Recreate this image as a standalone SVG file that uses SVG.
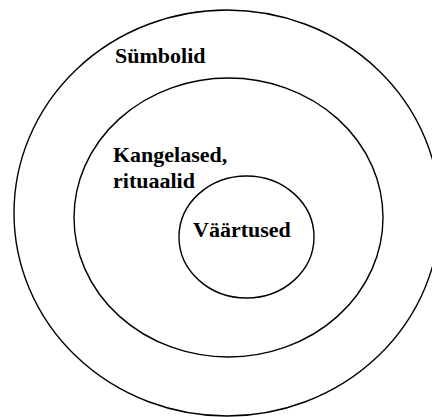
<svg xmlns="http://www.w3.org/2000/svg" width="432" height="417" viewBox="0 0 432 417">
<style>
.ring{fill:none;stroke:#000;stroke-width:1.4}
.lbl{font-family:"Liberation Serif","Times New Roman",serif;font-weight:bold;font-size:22px;fill:#000}
</style>
<rect width="432" height="417" fill="#fff"/>
<g id="symbols">
<ellipse class="ring" cx="227" cy="213" rx="213" ry="203"/>
<text class="lbl" x="115" y="63">Sümbolid</text>
</g>
<g id="heroes-rituals">
<ellipse class="ring" cx="228.5" cy="217.5" rx="154.5" ry="139.5"/>
<text class="lbl" x="113" y="162">Kangelased,</text>
<text class="lbl" x="113" y="188">rituaalid</text>
</g>
<g id="values">
<ellipse class="ring" cx="246.5" cy="237" rx="67.5" ry="61"/>
<text class="lbl" x="193" y="237">Väärtused</text>
</g>
<g id="connectors"></g>
</svg>
